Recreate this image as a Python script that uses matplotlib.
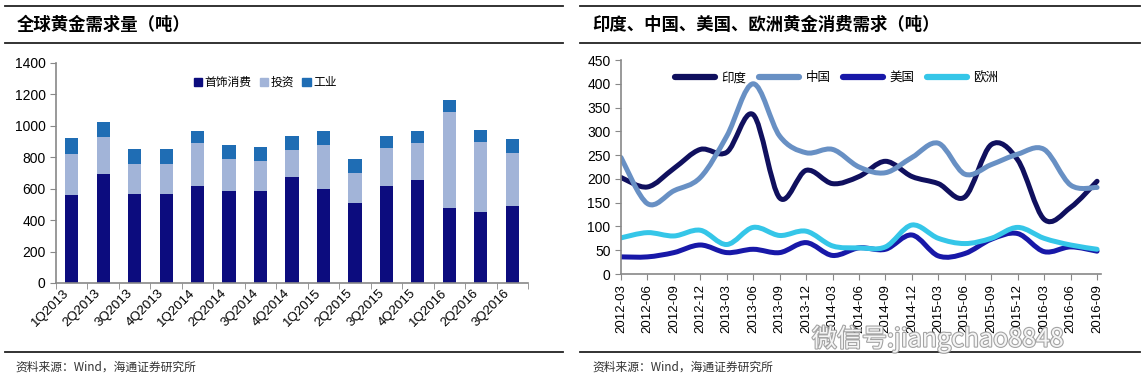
import matplotlib
matplotlib.use('Agg')
import matplotlib.pyplot as plt
from matplotlib.lines import Line2D
from matplotlib.patches import Patch, PathPatch
from matplotlib.path import Path
import matplotlib.transforms as mtransforms
import matplotlib.patheffects as pe

plt.rcParams['font.family'] = ['Liberation Sans', 'Noto Sans CJK SC', 'DejaVu Sans']
CJK = ['Noto Sans CJK SC', 'DejaVu Sans']

# ---- left chart data: global gold demand (tonnes)
quarters = ['1Q2013', '2Q2013', '3Q2013', '4Q2013', '1Q2014', '2Q2014', '3Q2014', '4Q2014',
            '1Q2015', '2Q2015', '3Q2015', '4Q2015', '1Q2016', '2Q2016', '3Q2016']
jewelry = [557, 695, 568, 568, 617, 587, 587, 676, 598, 506, 617, 657, 477, 449, 487]
invest = [263, 233, 191, 191, 273, 203, 190, 172, 282, 194, 242, 233, 612, 450, 342]
industry = [100, 96, 96, 96, 76, 86, 88, 88, 86, 88, 77, 76, 76, 77, 86]

# ---- right chart data: consumer demand by region (tonnes)
months = ['2012-03', '2012-06', '2012-09', '2012-12', '2013-03', '2013-06', '2013-09', '2013-12',
          '2014-03', '2014-06', '2014-09', '2014-12', '2015-03', '2015-06', '2015-09', '2015-12',
          '2016-03', '2016-06', '2016-09']
india = [203, 183, 222, 262, 256, 335, 160, 218, 190, 205, 237, 205, 190, 162, 272, 240, 115, 140, 195]
china = [245, 148, 175, 203, 290, 400, 290, 255, 262, 225, 213, 245, 275, 210, 230, 252, 262, 187, 182]
usa = [36, 36, 45, 61, 45, 52, 45, 66, 39, 55, 52, 82, 38, 43, 73, 85, 47, 57, 48]
europe = [76, 87, 80, 92, 62, 98, 81, 90, 59, 55, 57, 103, 75, 64, 75, 98, 75, 61, 52]

fig = plt.figure(figsize=(11.46, 3.87), dpi=100)

# header / footer rules and texts
for x0, x1 in [(5, 563), (580, 1140)]:
    for yy in [6, 43, 352]:
        fig.add_artist(Line2D([x0 / 1146, x1 / 1146], [1 - yy / 387] * 2, color='#222222', lw=1.3))
fig.text(17 / 1146, 1 - 25 / 387, '全球黄金需求量（吨）', family=CJK, fontsize=12.5,
         fontweight='bold', va='center')
fig.text(592 / 1146, 1 - 25 / 387, '印度、中国、美国、欧洲黄金消费需求（吨）', family=CJK, fontsize=12.5,
         fontweight='bold', va='center')
for x0 in [15, 592]:
    fig.text(x0 / 1146, 1 - 367 / 387, '资料来源：Wind，海通证券研究所', family=CJK, fontsize=8.5,
             va='center', color='#333333')

# ---- left: stacked bars
ax1 = fig.add_axes([56 / 1146, 1 - 283 / 387, 472 / 1146, 220 / 387])
xs = list(range(len(quarters)))
c_j, c_i, c_u = '#0c0c7e', '#a2b4d8', '#1f6db4'
ax1.bar(xs, jewelry, width=0.42, color=c_j, label='首饰消费')
ax1.bar(xs, invest, width=0.42, bottom=jewelry, color=c_i, label='投资')
tops = [a + b for a, b in zip(jewelry, invest)]
ax1.bar(xs, industry, width=0.42, bottom=tops, color=c_u, label='工业')
ax1.set_xlim(-0.5, 14.5)
ax1.set_ylim(0, 1400)
ax1.set_yticks(range(0, 1401, 200))
ax1.set_xticks(xs)
ax1.set_xticklabels(quarters, rotation=45, ha='right', fontsize=9.5)
ax1.set_xticks([i - 0.5 for i in range(16)], minor=True)
ax1.tick_params(axis='x', which='major', length=0, pad=3)
ax1.tick_params(axis='x', which='minor', length=4, color='#888888', direction='out')
ax1.tick_params(axis='y', labelsize=10, length=4, color='#888888')
for s in ['top', 'right']:
    ax1.spines[s].set_visible(False)
for s in ['left', 'bottom']:
    ax1.spines[s].set_color('#888888')
    ax1.spines[s].set_linewidth(1.2)
ax1.legend(handles=[Patch(color=c_j, label='首饰消费'), Patch(color=c_i, label='投资'),
                    Patch(color=c_u, label='工业')],
           loc='upper left', bbox_to_anchor=(0.27, 0.99), ncol=3, frameon=False,
           prop={'family': CJK, 'size': 8.5}, handlelength=0.7, handleheight=0.7,
           handletextpad=0.2, columnspacing=0.7)


# ---- right: smoothed lines
def smooth_path(x, y):
    n = len(x)
    verts = [(x[0], y[0])]
    codes = [Path.MOVETO]
    for i in range(n - 1):
        a = max(i - 1, 0)
        b = min(i + 2, n - 1)
        c1 = (x[i] + (x[i + 1] - x[a]) / 6, y[i] + (y[i + 1] - y[a]) / 6)
        c2 = (x[i + 1] - (x[b] - x[i]) / 6, y[i + 1] - (y[b] - y[i]) / 6)
        verts += [c1, c2, (x[i + 1], y[i + 1])]
        codes += [Path.CURVE4] * 3
    return Path(verts, codes)


ax2 = fig.add_axes([621 / 1146, 1 - 274 / 387, 480 / 1146, 214 / 387])
mx = list(range(len(months)))
series = [('印度', india, '#10105e'), ('中国', china, '#6890c4'),
          ('美国', usa, '#1818a8'), ('欧洲', europe, '#35c6e8')]
handles = []
for name, vals, col in series:
    ax2.add_patch(PathPatch(smooth_path(mx, vals), fill=False, ec=col, lw=3.6,
                            capstyle='round', joinstyle='round'))
    handles.append(Line2D([], [], color=col, lw=4.5, solid_capstyle='round', label=name))
ax2.set_xlim(0, 18.15)
ax2.set_ylim(0, 450)
ax2.set_yticks(range(0, 451, 50))
ax2.set_xticks(mx)
ax2.set_xticklabels(months, rotation=90, fontsize=9.5)
off = mtransforms.ScaledTranslation(5 / 100, 0, fig.dpi_scale_trans)
for lbl in ax2.get_xticklabels():
    lbl.set_transform(lbl.get_transform() + off)
ax2.tick_params(axis='x', length=4, color='#888888', pad=3)
ax2.tick_params(axis='y', labelsize=10, length=4, color='#888888')
for s in ['top', 'right']:
    ax2.spines[s].set_visible(False)
for s in ['left', 'bottom']:
    ax2.spines[s].set_color('#888888')
    ax2.spines[s].set_linewidth(1.2)
ax2.legend(handles=handles, loc='upper left', bbox_to_anchor=(0.09, 1.0), ncol=4,
           frameon=False, prop={'family': CJK, 'size': 9}, handlelength=3.2,
           handletextpad=0.5, columnspacing=1.0)

# watermark
fig.text(812 / 1146, 1 - 339 / 387, '微信号:jiangchao8848', family=CJK, fontsize=18,
         color='white', va='center', alpha=0.9,
         path_effects=[pe.withStroke(linewidth=1.6, foreground='#9a9a9a')])

fig.savefig('out.png', dpi=100)
